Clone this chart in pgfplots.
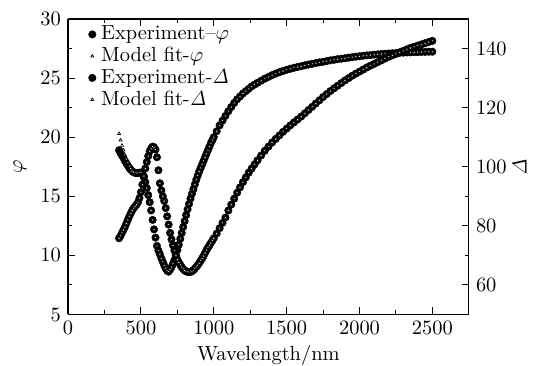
\documentclass[border=0pt]{standalone}
\usepackage{pgfplots}
\pgfplotsset{compat=1.18}
\usepackage{pgfplotstable}
\pgfplotstableread{
wl Aexp Afit Bexp
350 18.9 20.3 75.8
360 18.65 19.75 76.6
370 18.45 19.3 77.6
380 18.25 18.9 78.6
390 18.0 18.5 79.6
400 17.8 18.15 80.8
410 17.6 17.85 82.0
420 17.4 17.55 83.2
430 17.25 17.35 84.2
440 17.12 17.12 85.2
450 17.03 17.03 86.0
460 16.98 16.98 86.6
470 16.96 16.96 87.2
480 16.97 16.97 88.0
490 17.0 17.0 89.4
500 17.0 17.0 91.4
510 16.9 16.9 94.0
520 16.6 16.6 96.8
530 16.2 16.2 99.4
540 15.7 15.7 101.6
550 15.1 15.1 103.6
560 14.5 14.5 105.2
570 13.8 13.8 106.2
580 13.0 13.0 106.8
590 12.2 12.2 106.6
600 11.5 11.5 105.8
610 10.8 10.8 103.2
620 10.4 10.4 98.8
630 10.1 10.1 94.4
640 9.75 9.75 92.0
650 9.45 9.45 90.0
660 9.15 9.15 88.4
670 8.9 8.9 86.0
680 8.7 8.7 83.2
690 8.62 8.62 80.4
700 8.8 8.8 77.6
710 9.0 9.0 75.4
720 9.3 9.3 73.4
730 9.6 9.6 71.6
740 10.0 10.0 70.0
750 10.45 10.45 68.6
760 10.9 10.9 67.6
770 11.4 11.4 66.8
780 11.9 11.9 66.0
790 12.4 12.4 65.4
800 12.9 12.9 64.88
810 13.4 13.4 64.6
820 13.9 13.9 64.4
830 14.35 14.35 64.32
840 14.8 14.8 64.4
850 15.2 15.2 64.6
860 15.6 15.6 65.0
870 16.0 16.0 65.52
880 16.4 16.4 66.08
890 16.75 16.75 66.72
900 17.1 17.1 67.4
910 17.4 17.4 68.2
920 17.7 17.7 69.0
930 18.0 18.0 69.8
940 18.3 18.3 70.8
950 18.6 18.6 71.8
960 18.9 18.9 72.6
970 19.2 19.2 73.4
980 19.5 19.5 74.2
990 19.75 19.75 75.0
1000 20.0 20.0 75.8
1020 20.5 20.5 77.4
1040 21.0 21.0 79.2
1060 21.4 21.4 81.0
1080 21.8 21.8 82.8
1100 22.2 22.2 85.2
1120 22.55 22.55 87.2
1140 22.9 22.9 89.2
1160 23.2 23.2 91.2
1180 23.45 23.45 93.0
1200 23.7 23.7 94.8
1220 23.9 23.9 96.4
1240 24.1 24.1 98.0
1260 24.3 24.3 99.4
1280 24.45 24.45 100.8
1300 24.6 24.6 102.2
1325 24.78 24.78 103.8
1350 24.95 24.95 105.4
1375 25.1 25.1 106.8
1400 25.25 25.25 108.2
1425 25.38 25.38 109.4
1450 25.5 25.5 110.6
1475 25.6 25.6 111.8
1500 25.7 25.7 112.88
1525 25.79 25.79 114.0
1550 25.87 25.87 115.0
1575 25.94 25.94 116.0
1600 26.0 26.0 117.0
1625 26.08 26.08 118.08
1650 26.15 26.15 119.2
1675 26.21 26.21 120.28
1700 26.27 26.27 121.4
1725 26.33 26.33 122.48
1750 26.38 26.38 123.6
1775 26.44 26.44 124.6
1800 26.5 26.5 125.6
1825 26.55 26.55 126.52
1850 26.6 26.6 127.4
1875 26.64 26.64 128.32
1900 26.68 26.68 129.2
1925 26.73 26.73 130.0
1950 26.77 26.77 130.8
1975 26.81 26.81 131.52
2000 26.85 26.85 132.2
2025 26.89 26.89 132.88
2050 26.92 26.92 133.6
2075 26.95 26.95 134.2
2100 26.98 26.98 134.8
2125 27.01 27.01 135.4
2150 27.04 27.04 136.0
2175 27.06 27.06 136.6
2200 27.08 27.08 137.2
2225 27.1 27.1 137.72
2250 27.12 27.12 138.2
2275 27.14 27.14 138.72
2300 27.15 27.15 139.2
2325 27.17 27.17 139.72
2350 27.18 27.18 140.2
2375 27.19 27.19 140.6
2400 27.2 27.2 141.0
2425 27.21 27.21 141.4
2450 27.22 27.22 141.8
2475 27.23 27.23 142.2
2500 27.23 27.23 142.6
}\data
\pgfplotsset{
  expstyle/.style={only marks, mark=*, mark size=1.85pt, black, mark options={fill=black, draw=black, line width=0.2pt}},
  fitstyle/.style={only marks, mark=triangle*, mark size=0.85pt, black, mark options={fill=white, draw=black, line width=0.3pt}},
  common/.style={
    scale only axis, width=196pt, height=144.5pt,
    xmin=0, xmax=2750,
    tick align=inside,
    major tick length=3.4pt, minor tick length=2pt,
    every tick/.style={black, line width=0.55pt},
    axis line style={line width=0.65pt},
    /pgf/number format/1000 sep={},
  }
}
\begin{document}
\begin{tikzpicture}
\begin{axis}[common, name=ax,
  ymin=5, ymax=30,
  axis y line*=left,
  xtick={0,500,...,2500}, minor x tick num=1,
  ytick={5,10,...,30}, minor y tick num=1,
  xtick pos=both,
  xlabel={Wavelength/nm},
  xlabel style={yshift=2pt},
  ylabel={$\varphi$},
  legend cell align=left,
  legend style={at={(0.05,0.981)}, anchor=north west, draw=none, fill=none,
    inner sep=0pt, row sep=1.3pt,
    nodes={inner xsep=2.5pt, inner ysep=0.45pt}},
  legend image code/.code={\draw[mark repeat=2,mark phase=2,#1] plot coordinates {(0cm,0cm) (0.04cm,0cm) (0.08cm,0cm)};},
]
\addplot[expstyle] table[x=wl, y=Aexp] {\data};
\addlegendentry{Experiment--$\varphi$}
\addplot[fitstyle] table[x=wl, y=Afit] {\data};
\addlegendentry{Model fit-$\varphi$}
\addlegendimage{expstyle}
\addlegendentry{Experiment-$\mathit{\Delta}$}
\addlegendimage{fitstyle}
\addlegendentry{Model fit-$\mathit{\Delta}$}
\end{axis}
\begin{axis}[common,
  ymin=50, ymax=150,
  axis y line*=right, axis x line=none,
  ytick={60,80,...,140}, minor y tick num=1,
  ylabel={$\mathit{\Delta}$},
  ylabel style={yshift=4pt},
]
\addplot[expstyle] table[x=wl, y=Bexp] {\data};
\addplot[fitstyle] table[x=wl, y=Bexp] {\data};
\end{axis}
\pgfresetboundingbox
\path[use as bounding box] ([xshift=-33.3pt,yshift=-25pt]ax.south west) rectangle ([xshift=31.9pt,yshift=9.3pt]ax.north east);
\end{tikzpicture}
\end{document}
